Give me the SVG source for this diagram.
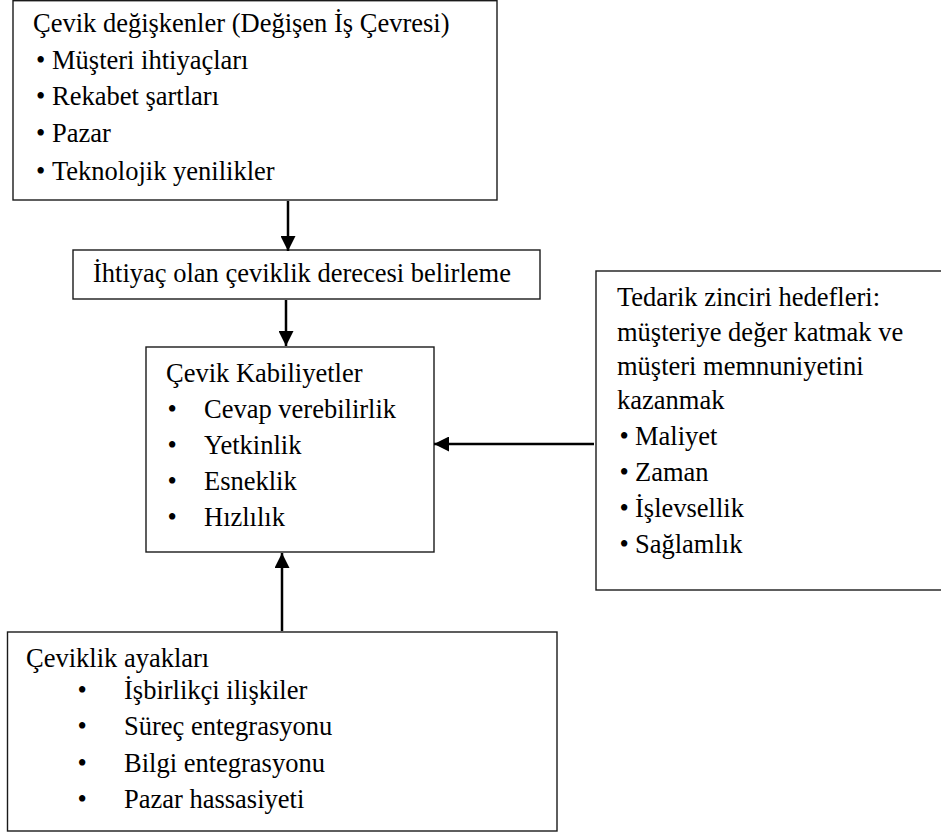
<svg xmlns="http://www.w3.org/2000/svg" width="941" height="834" viewBox="0 0 941 834">
<style>
.box{fill:#fff;stroke:#1a1a1a;stroke-width:1.4}
.c{stroke:#000;stroke-width:2.5;fill:none}
</style>
<defs>
<marker id="ah" viewBox="0 0 10 10" refX="10" refY="5" markerWidth="6" markerHeight="6" orient="auto" markerUnits="strokeWidth">
<path d="M0,0 L10,5 L0,10 z" fill="#000"/>
</marker>
</defs>
<rect width="941" height="834" fill="#fff"/>
<g font-family="Liberation Serif" font-size="26.5" fill="#000">
<g id="n-degiskenler">
<rect class="box" x="13" y="0.7" width="484" height="199.3"/>
<text x="33" y="32">Çevik değişkenler (Değişen İş Çevresi)</text>
<text x="36" y="69">•</text><text x="52" y="69">Müşteri ihtiyaçları</text>
<text x="36" y="105">•</text><text x="52" y="105">Rekabet şartları</text>
<text x="36" y="142">•</text><text x="52" y="142">Pazar</text>
<text x="36" y="180">•</text><text x="52" y="180">Teknolojik yenilikler</text>
</g>
<g id="n-derece">
<rect class="box" x="73" y="250" width="467" height="49"/>
<text x="93" y="282">İhtiyaç olan çeviklik derecesi belirleme</text>
</g>
<g id="n-kabiliyetler">
<rect class="box" x="146" y="347" width="288" height="205"/>
<text x="166" y="382">Çevik Kabiliyetler</text>
<text x="167.5" y="418">•</text><text x="204" y="418">Cevap verebilirlik</text>
<text x="167.5" y="454">•</text><text x="204" y="454">Yetkinlik</text>
<text x="167.5" y="490">•</text><text x="204" y="490">Esneklik</text>
<text x="167.5" y="526">•</text><text x="204" y="526">Hızlılık</text>
</g>
<g id="n-hedefler">
<rect class="box" x="596" y="271" width="360" height="319"/>
<text x="617" y="306">Tedarik zinciri hedefleri:</text>
<text x="617" y="341">müşteriye değer katmak ve</text>
<text x="617" y="375">müşteri memnuniyetini</text>
<text x="617" y="409">kazanmak</text>
<text x="619.5" y="445">•</text><text x="635" y="445">Maliyet</text>
<text x="619.5" y="481">•</text><text x="635" y="481">Zaman</text>
<text x="619.5" y="517">•</text><text x="635" y="517">İşlevsellik</text>
<text x="619.5" y="553">•</text><text x="635" y="553">Sağlamlık</text>
</g>
<g id="n-ayaklar">
<rect class="box" x="7.5" y="632" width="549.5" height="199"/>
<text x="26" y="667">Çeviklik ayakları</text>
<text x="77.5" y="699">•</text><text x="124" y="699">İşbirlikçi ilişkiler</text>
<text x="77.5" y="735">•</text><text x="124" y="735">Süreç entegrasyonu</text>
<text x="77.5" y="772">•</text><text x="124" y="772">Bilgi entegrasyonu</text>
<text x="77.5" y="808">•</text><text x="124" y="808">Pazar hassasiyeti</text>
</g>
</g>
<g id="connectors">
<line class="c" x1="288" y1="201" x2="288" y2="251" marker-end="url(#ah)"/>
<line class="c" x1="286" y1="300" x2="286" y2="346" marker-end="url(#ah)"/>
<line class="c" x1="594" y1="444" x2="434" y2="444" marker-end="url(#ah)"/>
<line class="c" x1="282" y1="631" x2="282" y2="553" marker-end="url(#ah)"/>
</g>
</svg>
